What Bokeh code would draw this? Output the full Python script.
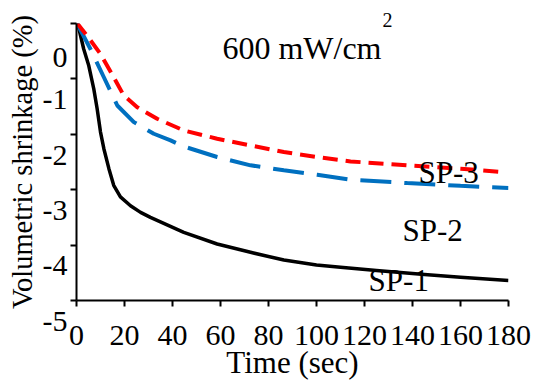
from bokeh.plotting import figure
from bokeh.models import Range1d, FixedTicker, Label, Title
from bokeh.embed import file_html
from bokeh.resources import INLINE
from bokeh.core.properties import value

# Data
t_sp1 = [0, 0.5, 3.0, 5.1, 7.2, 8.6, 10, 11.4, 13.5, 15.5, 18.3, 22.5, 26.7, 30.8, 44.7, 58.6,
         72.5, 86.4, 100, 110, 125, 145, 160, 180]
v_sp1 = [0.02, 0, -0.46, -0.76, -1.18, -1.54, -1.96, -2.26, -2.62, -2.92, -3.13, -3.29, -3.41,
         -3.50, -3.77, -3.98, -4.13, -4.27, -4.36, -4.40, -4.46, -4.53, -4.58, -4.64]

t_sp2 = [0, 5.8, 11.4, 17, 23.9, 32.2, 39.2, 44.7, 58.6, 72.5, 86.4, 100.3, 114.2, 137.8, 160, 180]
v_sp2 = [0.02, -0.46, -0.97, -1.48, -1.78, -1.99, -2.11, -2.22, -2.41, -2.56, -2.65, -2.73, -2.82,
         -2.88, -2.93, -2.97]

t_sp3 = [0, 4.4, 10, 15.5, 19.7, 25.3, 33.6, 44.7, 58.6, 72.5, 86.4, 100.3, 114.2, 137.8, 160, 177]
v_sp3 = [0.02, -0.22, -0.55, -0.97, -1.30, -1.51, -1.72, -1.93, -2.08, -2.20, -2.32, -2.41, -2.49,
         -2.56, -2.62, -2.68]

x_ticks = [0, 20, 40, 60, 80, 100, 120, 140, 160, 180]
y_ticks = [0, -1, -2, -3, -4, -5]

series_names = ["SP-1", "SP-2", "SP-3"]
label_x = [121.7, 135.8, 142.5]
label_y = [-4.64, -3.74, -2.69]

FONT = "Liberation Serif"

p = figure(width=547, height=383, output_backend="svg", toolbar_location=None,
           x_range=Range1d(0, 180), y_range=Range1d(-5, 0),
           min_border_left=76, min_border_right=39, min_border_top=23, min_border_bottom=83)
p.outline_line_color = None
p.grid.visible = False
p.background_fill_color = "white"
p.border_fill_color = "white"

p.line(t_sp1, v_sp1, line_color="black", line_width=3.5, line_join="round")
p.line(t_sp2, v_sp2, line_color="#0070C0", line_width=4, line_dash="31 13")
p.line(t_sp3, v_sp3, line_color="#FF0000", line_width=4, line_dash="15 8")

for ax in (p.xaxis[0], p.yaxis[0]):
    ax.axis_line_color = "black"
    ax.axis_line_width = 2
    ax.major_tick_line_color = "black"
    ax.major_tick_line_width = 2
    ax.major_tick_out = 6
    ax.major_tick_in = 0
    ax.minor_tick_line_color = None
    ax.major_label_text_font = FONT
    ax.major_label_text_font_size = "30px"
    ax.major_label_text_color = "black"
    ax.axis_label_text_font = FONT
    ax.axis_label_text_font_style = "normal"
    ax.axis_label_text_color = "black"

p.xaxis[0].ticker = FixedTicker(ticks=x_ticks)
p.yaxis[0].ticker = FixedTicker(ticks=y_ticks)
# the reference draws its value labels a little below each tick
p.yaxis[0].major_label_overrides = {t: "\n" + str(t) for t in y_ticks}
p.xaxis[0].axis_label = "Time (sec)"
p.yaxis[0].axis_label = "Volumetric shrinkage (%)"
p.xaxis[0].axis_label_text_font_size = "31px"
p.yaxis[0].axis_label_text_font_size = "28.5px"
p.xaxis[0].major_label_standoff = 19
p.xaxis[0].axis_label_standoff = -3
p.yaxis[0].major_label_standoff = 3
p.yaxis[0].axis_label_standoff = 2

p.text(x=label_x, y=label_y, text=series_names, text_font=value(FONT),
       text_font_size="31px", text_color="black", text_baseline="alphabetic")

p.add_layout(Label(x=60.8, y=-0.45, text="600 mW/cm", text_font=FONT,
                   text_font_size="32px", text_color="black", text_baseline="alphabetic"))
# superscript of the unit, placed in the top border so it is not clipped
p.add_layout(Title(text="2", align="left", offset=306, standoff=-6, text_font=FONT,
                   text_font_size="20px", text_font_style="normal", text_color="black"), "above")

open("out.html", "w").write(file_html(p, INLINE))
